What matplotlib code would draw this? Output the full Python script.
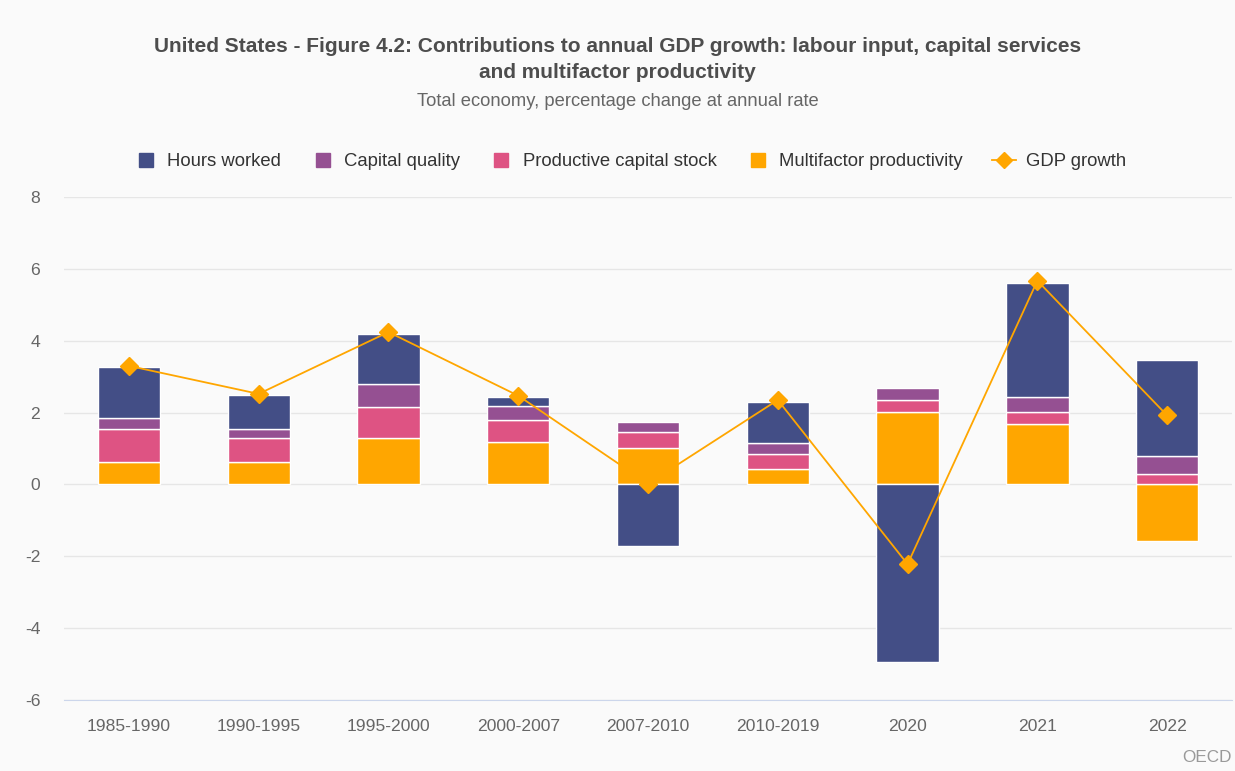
import numpy as np
import matplotlib
matplotlib.use("Agg")
import matplotlib.pyplot as plt
from matplotlib.lines import Line2D

plt.rcParams['font.family'] = ['Liberation Sans', 'DejaVu Sans']
plt.rcParams['axes.unicode_minus'] = False

# data
periods = ["1985-1990", "1990-1995", "1995-2000", "2000-2007", "2007-2010",
           "2010-2019", "2020", "2021", "2022"]
hours = [1.42, 0.96, 1.41, 0.25, -1.71, 1.16, -4.94, 3.18, 2.67]
cap_quality = [0.30, 0.25, 0.64, 0.39, 0.30, 0.30, 0.35, 0.43, 0.52]
cap_stock = [0.91, 0.65, 0.87, 0.60, 0.43, 0.42, 0.33, 0.34, 0.28]
mfp = [0.63, 0.63, 1.28, 1.19, 1.02, 0.42, 2.01, 1.67, -1.58]
gdp = [3.30, 2.52, 4.24, 2.47, 0.02, 2.35, -2.22, 5.67, 1.92]

# bottom of stack first
series = [("Multifactor productivity", mfp, "#FFA600"),
          ("Productive capital stock", cap_stock, "#DE5383"),
          ("Capital quality", cap_quality, "#955092"),
          ("Hours worked", hours, "#434E86")]

bg = "#fafafa"
fig = plt.figure(figsize=(12.35, 7.71), dpi=100, facecolor=bg)
ax = fig.add_axes([0.0518, 0.0921, 0.9458, 0.6524], facecolor=bg)

x = np.arange(len(periods))
pos_base = np.zeros(len(x))
neg_base = np.zeros(len(x))
for name, vals, col in series:
    v = np.array(vals)
    bottom = np.where(v >= 0, pos_base, neg_base)
    ax.bar(x, v, bottom=bottom, width=0.48, color=col, edgecolor="white",
           linewidth=1, zorder=2)
    pos_base = pos_base + np.where(v >= 0, v, 0)
    neg_base = neg_base + np.where(v < 0, v, 0)

ax.plot(x, gdp, color="#FFA600", linewidth=1.3, marker="D", markersize=9,
        zorder=3)

ax.set_xlim(-0.5, len(x) - 0.5)
ax.set_ylim(-6, 8)
ax.set_yticks(range(-6, 9, 2))
ax.set_xticks(x)
ax.set_xticklabels(periods)
ax.grid(axis="y", color="#e6e6e6", linewidth=1, zorder=0)
ax.set_axisbelow(True)
for s in ["top", "right", "left"]:
    ax.spines[s].set_visible(False)
ax.spines["bottom"].set_color("#ccd6eb")
ax.tick_params(axis="both", length=0, labelsize=12.6, colors="#666666")
ax.tick_params(axis="x", pad=14)
ax.tick_params(axis="y", pad=17)

fig.text(0.5, 1 - 46 / 771, "United States - Figure 4.2: Contributions to annual GDP growth: labour input, capital services",
         ha="center", va="center", fontsize=15, fontweight="bold", color="#4d4d4d")
fig.text(0.5, 1 - 72 / 771, "and multifactor productivity",
         ha="center", va="center", fontsize=15, fontweight="bold", color="#4d4d4d")
fig.text(0.5, 1 - 101 / 771, "Total economy, percentage change at annual rate",
         ha="center", va="center", fontsize=13.2, color="#666666")

handles = []
for name, vals, col in reversed(series):
    handles.append(Line2D([], [], linestyle="none", marker="s", markersize=10,
                          color=col, label=name))
handles.append(Line2D([], [], color="#FFA600", linewidth=1.3, marker="D",
                      markersize=8, label="GDP growth"))
fig.legend(handles=handles, loc="center", bbox_to_anchor=(0.51, 1 - 162 / 771),
           ncol=5, frameon=False, fontsize=13.3, handlelength=1.3,
           handletextpad=0.5, columnspacing=1.6, labelcolor="#333333")

fig.text(1232 / 1235, 1 - 765 / 771, "OECD", ha="right", va="bottom",
         fontsize=12.3, color="#999999")

fig.savefig("out.png", dpi=100, facecolor=bg)
